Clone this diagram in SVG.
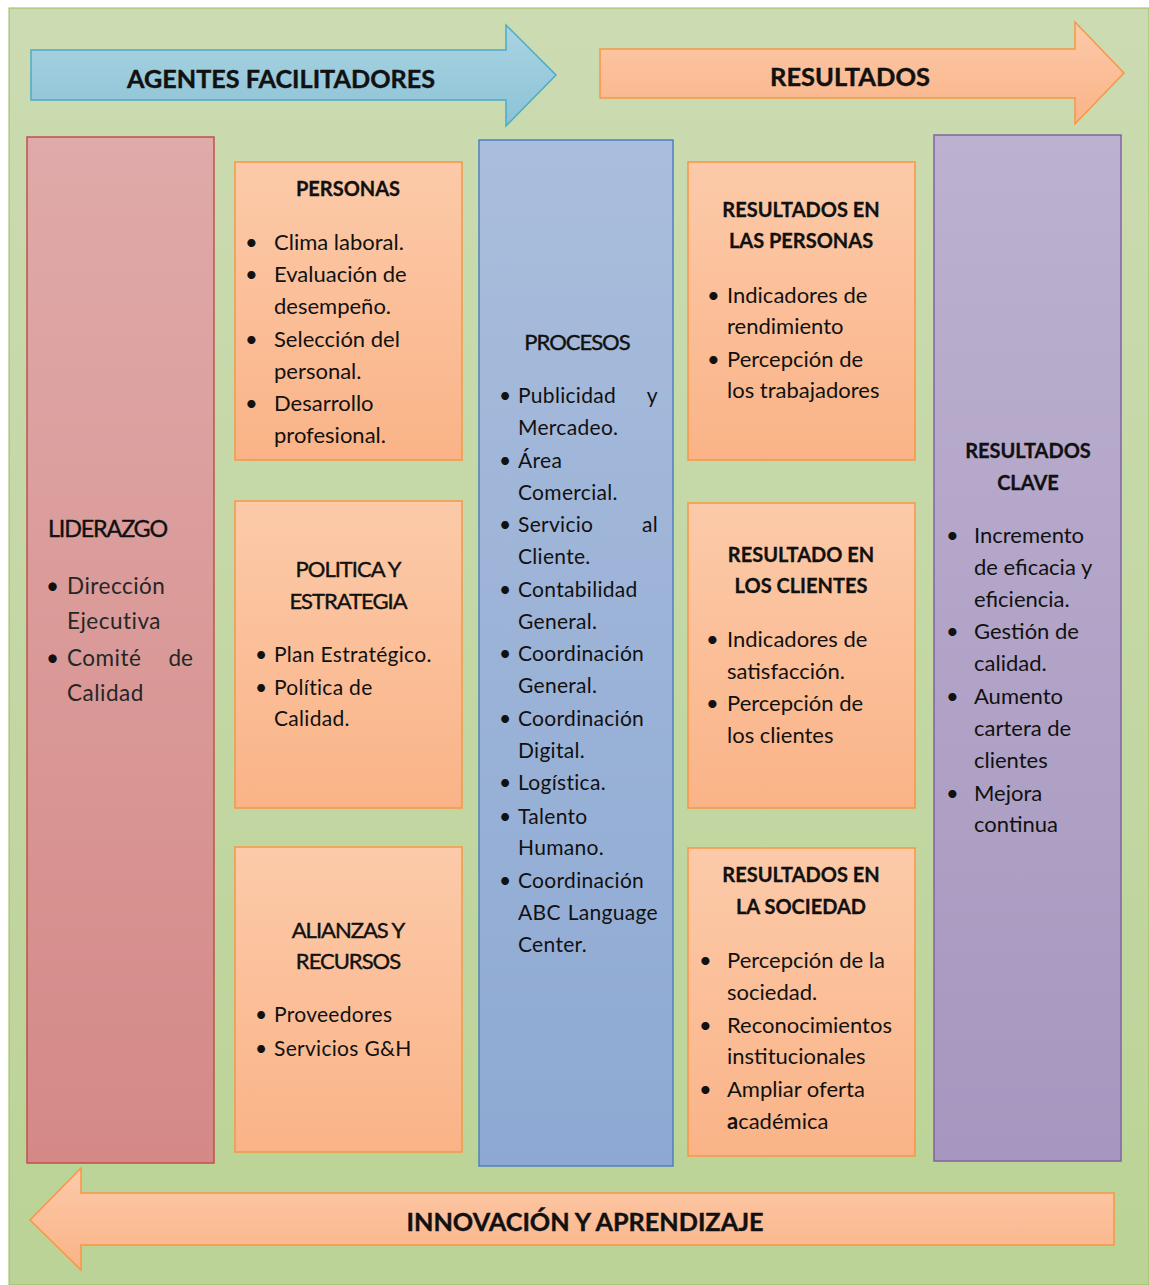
<svg xmlns="http://www.w3.org/2000/svg" width="1149" height="1285" viewBox="0 0 1149 1285">
<defs>
<linearGradient id="gBg" x1="0" y1="0" x2="0" y2="1"><stop offset="0" stop-color="#CCDBB2"/><stop offset="1" stop-color="#BBD396"/></linearGradient>
<linearGradient id="gBlue" x1="0" y1="0" x2="0" y2="1"><stop offset="0" stop-color="#AAD4E2"/><stop offset="1" stop-color="#8CC2D6"/></linearGradient>
<linearGradient id="gOr" x1="0" y1="0" x2="0" y2="1"><stop offset="0" stop-color="#FCCAA9"/><stop offset="1" stop-color="#FAB387"/></linearGradient>
<linearGradient id="gRed" x1="0" y1="0" x2="0" y2="1"><stop offset="0" stop-color="#DFAAA9"/><stop offset="1" stop-color="#D48987"/></linearGradient>
<linearGradient id="gPro" x1="0" y1="0" x2="0" y2="1"><stop offset="0" stop-color="#AABDDC"/><stop offset="1" stop-color="#8DA9D3"/></linearGradient>
<linearGradient id="gPur" x1="0" y1="0" x2="0" y2="1"><stop offset="0" stop-color="#BCB1CF"/><stop offset="1" stop-color="#A796BF"/></linearGradient>
<style>
text{font-family:Lato,"Liberation Sans",sans-serif;fill:#111}
.t{font-weight:bold;font-size:20px;text-anchor:middle;stroke:#111;stroke-width:0.3px}
.h{font-size:22px;text-anchor:middle;letter-spacing:-1px;stroke:#111;stroke-width:0.4px}
.big{font-weight:bold;font-size:25px;text-anchor:middle;stroke:#111;stroke-width:0.4px}
.i{font-size:22px}
.g{font-size:21px;fill:#262626;letter-spacing:0.3px}
.box{fill:url(#gOr);stroke:#F79646;stroke-width:1.5}
</style>
</defs>
<rect x="9" y="8" width="1140" height="1277" fill="url(#gBg)" stroke="#9BBB59" stroke-width="1"/>

<g id="arrow-agentes">
<path d="M31,50 H506 V25 L556,75 L506,126 V100 H31 Z" fill="url(#gBlue)" stroke="#4BACC6" stroke-width="1.5"/>
<text class="big" x="281" y="88" textLength="308" lengthAdjust="spacingAndGlyphs">AGENTES FACILITADORES</text>
</g>
<g id="arrow-resultados">
<path d="M600,49 H1075 V22 L1124,73 L1075,124 V98 H600 Z" fill="url(#gOr)" stroke="#F79646" stroke-width="1.5"/>
<text class="big" x="850" y="86" textLength="160" lengthAdjust="spacingAndGlyphs">RESULTADOS</text>
</g>

<g id="liderazgo">
<rect x="27" y="137" width="187" height="1026" fill="url(#gRed)" stroke="#C0504D" stroke-width="1.5"/>
<text x="48" y="537" font-size="24" letter-spacing="-1.2" stroke="#111" stroke-width="0.4" textLength="119" lengthAdjust="spacingAndGlyphs">LIDERAZGO</text>
<g style="font-size:22.5px">
<text x="46" y="594">•</text><text x="67" y="594" style="fill:#262626;letter-spacing:0.5px">Dirección</text>
<text x="67" y="629" style="fill:#262626;letter-spacing:0.5px">Ejecutiva</text>
<text x="46" y="666">•</text><text x="67" y="666" style="fill:#262626;letter-spacing:0.5px">Comité</text><text x="193" y="666" text-anchor="end" style="fill:#262626">de</text>
<text x="67" y="701" style="fill:#262626;letter-spacing:0.5px">Calidad</text>
</g>
</g>

<g id="personas">
<rect class="box" x="235" y="162" width="227" height="298"/>
<text class="t" x="348" y="196">PERSONAS</text>
<g class="i">
<text x="245" y="250">•</text><text x="274" y="250">Clima laboral.</text>
<text x="245" y="282">•</text><text x="274" y="282">Evaluación de</text>
<text x="274" y="314">desempeño.</text>
<text x="245" y="347">•</text><text x="274" y="347">Selección del</text>
<text x="274" y="379">personal.</text>
<text x="245" y="411">•</text><text x="274" y="411">Desarrollo</text>
<text x="274" y="443">profesional.</text>
</g>
</g>

<g id="politica">
<rect class="box" x="235" y="501" width="227" height="307"/>
<text class="h" x="348" y="577">POLITICA Y</text>
<text class="h" x="348" y="609">ESTRATEGIA</text>
<g class="g">
<text x="255" y="662">•</text><text x="274" y="662">Plan Estratégico.</text>
<text x="255" y="695">•</text><text x="274" y="695">Política de</text>
<text x="274" y="726">Calidad.</text>
</g>
</g>

<g id="alianzas">
<rect class="box" x="235" y="847" width="227" height="305"/>
<text class="h" x="348" y="938">ALIANZAS Y</text>
<text class="h" x="348" y="969">RECURSOS</text>
<g class="g">
<text x="255" y="1022">•</text><text x="274" y="1022">Proveedores</text>
<text x="255" y="1056">•</text><text x="274" y="1056">Servicios G&amp;H</text>
</g>
</g>

<g id="procesos">
<rect x="479" y="140" width="194" height="1026" fill="url(#gPro)" stroke="#4F81BD" stroke-width="1.5"/>
<text class="h" x="577" y="350">PROCESOS</text>
<g class="g">
<text x="499" y="403">•</text><text x="518" y="403">Publicidad</text><text x="658" y="403" text-anchor="end">y</text>
<text x="518" y="435">Mercadeo.</text>
<text x="499" y="468">•</text><text x="518" y="468">Área</text>
<text x="518" y="500">Comercial.</text>
<text x="499" y="532">•</text><text x="518" y="532">Servicio</text><text x="658" y="532" text-anchor="end">al</text>
<text x="518" y="564">Cliente.</text>
<text x="499" y="597">•</text><text x="518" y="597">Contabilidad</text>
<text x="518" y="629">General.</text>
<text x="499" y="661">•</text><text x="518" y="661">Coordinación</text>
<text x="518" y="693">General.</text>
<text x="499" y="726">•</text><text x="518" y="726">Coordinación</text>
<text x="518" y="758">Digital.</text>
<text x="499" y="790">•</text><text x="518" y="790">Logística.</text>
<text x="499" y="824">•</text><text x="518" y="824">Talento</text>
<text x="518" y="855">Humano.</text>
<text x="499" y="888">•</text><text x="518" y="888">Coordinación</text>
<text x="518" y="920">ABC</text><text x="658" y="920" text-anchor="end">Language</text>
<text x="518" y="952">Center.</text>
</g>
</g>

<g id="res-personas">
<rect class="box" x="688" y="162" width="227" height="298"/>
<text class="t" x="801" y="217">RESULTADOS EN</text>
<text class="t" x="801" y="248">LAS PERSONAS</text>
<g class="i">
<text x="707" y="303">•</text><text x="727" y="303">Indicadores de</text>
<text x="727" y="334">rendimiento</text>
<text x="707" y="367">•</text><text x="727" y="367">Percepción de</text>
<text x="727" y="398">los trabajadores</text>
</g>
</g>

<g id="res-clientes">
<rect class="box" x="688" y="503" width="227" height="305"/>
<text class="t" x="801" y="562">RESULTADO EN</text>
<text class="t" x="801" y="593">LOS CLIENTES</text>
<g class="i">
<text x="706" y="647">•</text><text x="727" y="647">Indicadores de</text>
<text x="727" y="679">satisfacción.</text>
<text x="706" y="711">•</text><text x="727" y="711">Percepción de</text>
<text x="727" y="743">los clientes</text>
</g>
</g>

<g id="res-sociedad">
<rect class="box" x="688" y="848" width="227" height="308"/>
<text class="t" x="801" y="882">RESULTADOS EN</text>
<text class="t" x="801" y="914">LA SOCIEDAD</text>
<g class="i">
<text x="699" y="968">•</text><text x="727" y="968">Percepción de la</text>
<text x="727" y="1000">sociedad.</text>
<text x="699" y="1033">•</text><text x="727" y="1033">Reconocimientos</text>
<text x="727" y="1064">institucionales</text>
<text x="699" y="1097">•</text><text x="727" y="1097">Ampliar oferta</text>
<text x="727" y="1129"><tspan font-weight="bold">a</tspan>cadémica</text>
</g>
</g>

<g id="res-clave">
<rect x="934" y="135" width="187" height="1026" fill="url(#gPur)" stroke="#8064A2" stroke-width="1.5"/>
<text class="t" x="1028" y="458">RESULTADOS</text>
<text class="t" x="1028" y="490">CLAVE</text>
<g class="i">
<text x="946" y="543">•</text><text x="974" y="543">Incremento</text>
<text x="974" y="575">de eficacia y</text>
<text x="974" y="607">eficiencia.</text>
<text x="946" y="639">•</text><text x="974" y="639">Gestión de</text>
<text x="974" y="671">calidad.</text>
<text x="946" y="704">•</text><text x="974" y="704">Aumento</text>
<text x="974" y="736">cartera de</text>
<text x="974" y="768">clientes</text>
<text x="946" y="801">•</text><text x="974" y="801">Mejora</text>
<text x="974" y="832">continua</text>
</g>
</g>

<g id="arrow-innovacion">
<path d="M1114,1193 H81 V1168 L30,1220 L81,1270 V1245 H1114 Z" fill="url(#gOr)" stroke="#F79646" stroke-width="1.5"/>
<text class="big" x="585" y="1231" textLength="357" lengthAdjust="spacingAndGlyphs">INNOVACIÓN Y APRENDIZAJE</text>
</g>

<g id="connectors"/>
</svg>
